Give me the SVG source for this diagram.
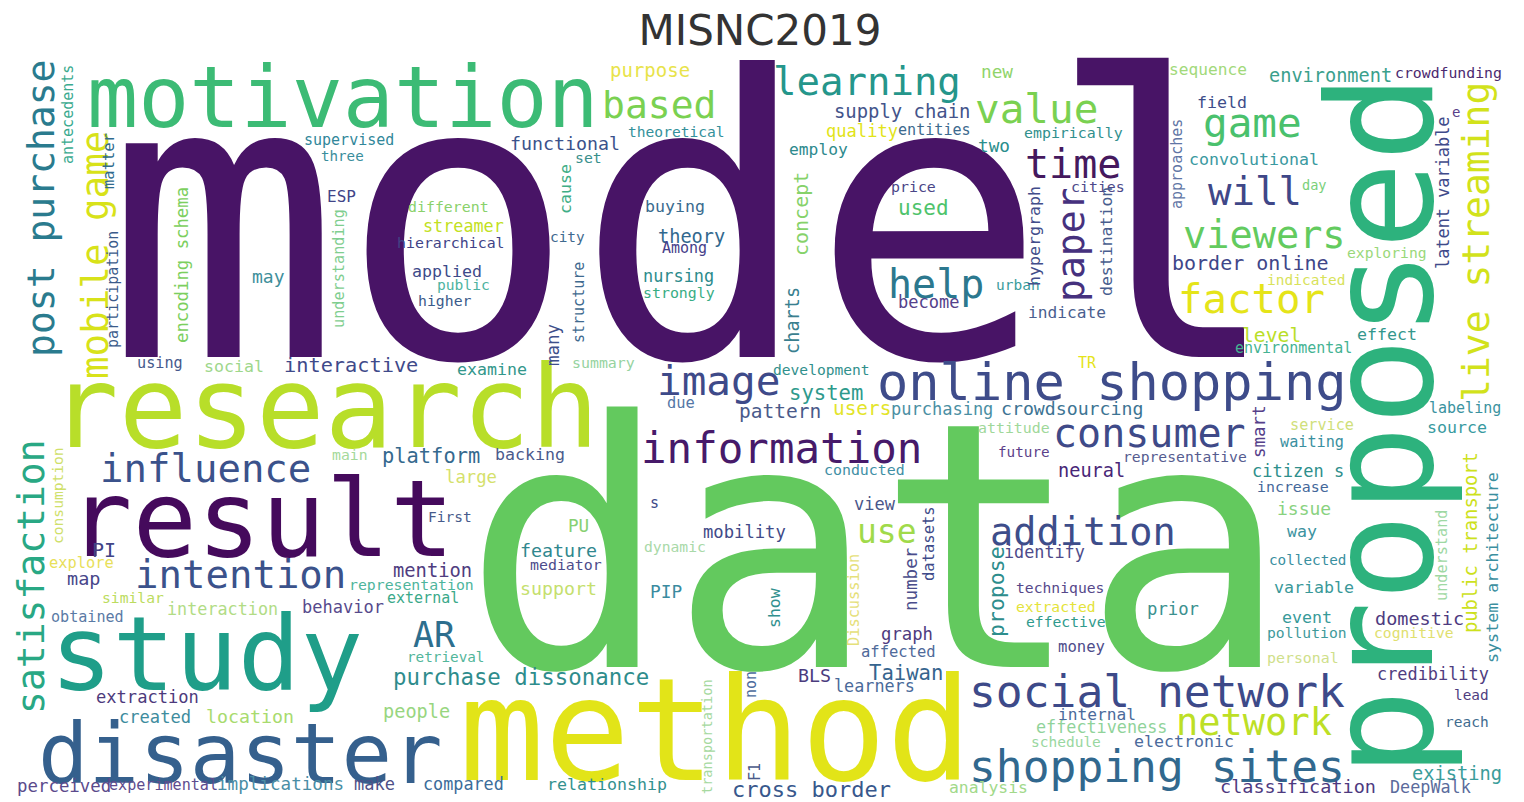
<svg xmlns="http://www.w3.org/2000/svg" width="1524" height="802" viewBox="0 0 1524 802">
<style>
text{font-family:"DejaVu Sans Mono","Liberation Mono",monospace;}
.title{font-family:"DejaVu Sans","Liberation Sans",sans-serif;}
</style>
<rect width="1524" height="802" fill="#ffffff"/>
<text class="title" x="760" y="45" font-size="42" text-anchor="middle" fill="#333333">MISNC2019</text>
<g id="big">
<text id="w-model" x="105" y="357" font-size="391" fill="#481466">model</text>
<text id="w-data" x="463" y="667" font-size="343" fill="#63c95e">data</text>
<text id="w-proposed" transform="translate(1432,777) rotate(-90)" font-size="146" fill="#2db27d">proposed</text>
<text id="w-research" x="50" y="447" font-size="114" fill="#b8de29">research</text>
<text id="w-result" x="68" y="556" font-size="107" fill="#450a5c">result</text>
<text id="w-study" x="50" y="690" font-size="104" fill="#1f9e89">study</text>
<text id="w-method" x="459" y="780" font-size="142" fill="#e2e418">method</text>
<text id="w-disaster" x="38" y="783" font-size="84" fill="#35608d">disaster</text>
<text id="w-motivation" x="87" y="127" font-size="85" fill="#3cbb75">motivation</text>
</g>
<g id="medium">
<text x="100" y="482" font-size="39" fill="#3b528b">influence</text>
<text x="135" y="588" font-size="39" fill="#3b528b">intention</text>
<text x="641" y="463" font-size="42.5" fill="#471a6a">information</text>
<text x="877" y="400" font-size="52" fill="#3e4c8a">online shopping</text>
<text x="969" y="707" font-size="44.6" fill="#3d4a89">social network</text>
<text x="969" y="782" font-size="44.6" fill="#31688e">shopping sites</text>
<text x="1176" y="735" font-size="37" fill="#bddf26">network</text>
<text x="1053" y="447" font-size="40" fill="#3f4a88">consumer</text>
<text x="990" y="545" font-size="38.6" fill="#3d4d8a">addition</text>
<text x="657" y="395" font-size="41" fill="#3e4a89">image</text>
<text x="857" y="543" font-size="33" fill="#a0da4a">use</text>
<text x="413" y="647" font-size="35" fill="#2d6e8e">AR</text>
<text x="773" y="95" font-size="39" fill="#25968b">learning</text>
<text x="975" y="123" font-size="41" fill="#7ad151">value</text>
<text x="1025" y="178" font-size="40" fill="#45195e">time</text>
<text x="888" y="298" font-size="40" fill="#2c788e">help</text>
<text x="1203" y="137" font-size="41" fill="#4ac16d">game</text>
<text x="1208" y="205" font-size="39" fill="#3f4788">will</text>
<text x="1183" y="248" font-size="38.6" fill="#63cb5f">viewers</text>
<text x="1178" y="313" font-size="40.7" fill="#e5e419">factor</text>
<text x="602" y="118" font-size="38" fill="#7ad151">based</text>
<text transform="translate(54,357) rotate(-90)" font-size="38" fill="#2a7b8e">post purchase</text>
<text transform="translate(108,379) rotate(-90)" font-size="37.5" fill="#d8e219">mobile game</text>
<text transform="translate(44,714) rotate(-90)" font-size="38" fill="#29a884">satisfaction</text>
<text transform="translate(1084,302) rotate(-90)" font-size="38" fill="#46317e">paper</text>
<text transform="translate(1489,402) rotate(-90)" font-size="38" fill="#d2e21b">live streaming</text>
<text x="92" y="557" font-size="20" fill="#414487">PI</text>
</g>
<g id="small">
<text x="393" y="685" font-size="22.4" fill="#2e8c8c">purchase dissonance</text>
<text x="1172" y="270" font-size="20" fill="#404688">border online</text>
<text x="284" y="372" font-size="20.3" fill="#3f4a8a">interactive</text>
<text x="382" y="463" font-size="20.4" fill="#35698e">platform</text>
<text x="789" y="400" font-size="20.6" fill="#2e9a8c">system</text>
<text x="739" y="418" font-size="19.5" fill="#4a5a8a">pattern</text>
<text x="833" y="415" font-size="19.4" fill="#e3e42a">users</text>
<text x="891" y="415" font-size="17" fill="#4b8fa3">purchasing</text>
<text x="1001" y="415" font-size="18.2" fill="#3d7493">crowdsourcing</text>
<text x="732" y="797" font-size="22" fill="#38588c">cross border</text>
<text x="869" y="680" font-size="20.6" fill="#36648e">Taiwan</text>
<text x="1242" y="342" font-size="19.7" fill="#bade28">level</text>
<text x="834" y="118" font-size="18.9" fill="#44548b">supply chain</text>
<text x="658" y="243" font-size="18.6" fill="#31688e">theory</text>
<text x="1058" y="477" font-size="18.6" fill="#482677">neural</text>
<text x="393" y="577" font-size="18.8" fill="#4f3d7f">mention</text>
<text x="1269" y="82" font-size="18.6" fill="#3aa08c">environment</text>
<text x="610" y="77" font-size="19" fill="#e8e34a">purpose</text>
<text x="510" y="150" font-size="18.3" fill="#3b528b">functional</text>
<text x="383" y="718" font-size="18.6" fill="#98d67f">people</text>
<text x="1412" y="780" font-size="18.7" fill="#3a9d9a">existing</text>
<text x="1220" y="793" font-size="18.5" fill="#4e3a7f">classification</text>
<text x="1375" y="625" font-size="18.5" fill="#4e3b80">domestic</text>
<text x="520" y="557" font-size="18.3" fill="#30878e">feature</text>
<text x="520" y="595" font-size="18.3" fill="#c5df6e">support</text>
<text x="206" y="723" font-size="18.3" fill="#a8db6e">location</text>
<text x="798" y="682" font-size="18.3" fill="#4b3c7e">BLS</text>
<text x="67" y="585" font-size="18.5" fill="#48478a">map</text>
<text x="252" y="283" font-size="18" fill="#3e8f9b">may</text>
<text x="1277" y="515" font-size="18" fill="#89d27f">issue</text>
<text x="217" y="790" font-size="17.6" fill="#4a8ea5">implications</text>
<text x="17" y="792" font-size="17.4" fill="#5b4a8c">perceived</text>
<text x="650" y="598" font-size="17.8" fill="#3a8b9f">PIP</text>
<text x="568" y="532" font-size="17.6" fill="#87d072">PU</text>
<text x="981" y="78" font-size="17.7" fill="#90d46a">new</text>
<text x="978" y="152" font-size="17.7" fill="#2b8e8c">two</text>
<text x="881" y="640" font-size="17.3" fill="#4f3b80">graph</text>
<text x="445" y="483" font-size="17.3" fill="#d5e16b">large</text>
<text x="1147" y="615" font-size="17.3" fill="#3c918f">prior</text>
<text x="703" y="538" font-size="17.2" fill="#414a88">mobility</text>
<text x="96" y="703" font-size="17.1" fill="#4d3a7c">extraction</text>
<text x="119" y="723" font-size="17.1" fill="#3e8c9e">created</text>
<text x="826" y="137" font-size="17.1" fill="#e2e418">quality</text>
<text x="302" y="613" font-size="17" fill="#574a8c">behavior</text>
<text x="1252" y="477" font-size="17" fill="#2e8f8c">citizen s</text>
<text x="854" y="510" font-size="17" fill="#4a568a">view</text>
<text x="898" y="308" font-size="17" fill="#54418b">become</text>
<text x="423" y="232" font-size="16.8" fill="#c2df23">streamer</text>
<text x="643" y="282" font-size="16.9" fill="#2c8b8c">nursing</text>
<text x="1377" y="680" font-size="16.9" fill="#503d80">credibility</text>
<text x="167" y="615" font-size="16.8" fill="#b2dc85">interaction</text>
<text x="423" y="790" font-size="16.8" fill="#3c6c9a">compared</text>
<text x="1004" y="558" font-size="16.8" fill="#4e4a8a">identify</text>
<text x="834" y="692" font-size="16.8" fill="#4a6a9a">learners</text>
<text x="1036" y="733" font-size="16.8" fill="#90d39a">effectiveness</text>
<text x="1390" y="793" font-size="16.8" fill="#5b6b9c">DeepWalk</text>
<text x="354" y="790" font-size="17" fill="#4e5088">make</text>
<text x="547" y="790" font-size="16.6" fill="#33918e">relationship</text>
<text x="412" y="277" font-size="16.6" fill="#3e4a89">applied</text>
<text x="645" y="212" font-size="16.6" fill="#3a6b8e">buying</text>
<text x="457" y="375" font-size="16.6" fill="#33978b">examine</text>
<text x="495" y="460" font-size="16.6" fill="#4b5a8c">backing</text>
<text x="204" y="372" font-size="16.6" fill="#9ed78b">social</text>
<text x="1357" y="340" font-size="16.6" fill="#34978c">effect</text>
<text x="1427" y="433" font-size="16.6" fill="#389aa0">source</text>
<text x="1287" y="537" font-size="16.6" fill="#3c93a0">way</text>
<text x="1134" y="747" font-size="16.6" fill="#4c6b9c">electronic</text>
<text x="1274" y="593" font-size="16.6" fill="#3a9999">variable</text>
<text x="1282" y="623" font-size="16.6" fill="#389b9a">event</text>
<text x="1197" y="108" font-size="16.6" fill="#3e4d8a">field</text>
<text x="1189" y="165" font-size="16.6" fill="#3a99a0">convolutional</text>
<text x="949" y="793" font-size="16.4" fill="#a2d98a">analysis</text>
<text x="789" y="155" font-size="16.3" fill="#2d8a8d">employ</text>
<text x="1169" y="75" font-size="16.2" fill="#a2d97a">sequence</text>
<text x="1028" y="318" font-size="16.2" fill="#4a5f8f">indicate</text>
<text x="1058" y="720" font-size="16.2" fill="#4b6b9b">internal</text>
<text x="327" y="202" font-size="16" fill="#414487">ESP</text>
<text x="898" y="215" font-size="21" fill="#4ec36b">used</text>
<text x="861" y="657" font-size="15.5" fill="#4f6a9a">affected</text>
<text x="1058" y="652" font-size="15.6" fill="#4e4d8b">money</text>
<text x="49" y="568" font-size="15.4" fill="#e8e05a">explore</text>
<text x="667" y="408" font-size="15.4" fill="#5477a6">due</text>
<text x="1290" y="430" font-size="15.2" fill="#d0e07a">service</text>
<text x="1280" y="447" font-size="15.2" fill="#3a90a0">waiting</text>
<text x="137" y="368" font-size="15.2" fill="#46598c">using</text>
<text x="51" y="622" font-size="15.1" fill="#5a7aa5">obtained</text>
<text x="898" y="135" font-size="15.1" fill="#3d6a8e">entities</text>
<text x="109" y="790" font-size="15.1" fill="#5e4c8e">experimental</text>
<text x="304" y="145" font-size="15" fill="#31879a">supervised</text>
<text x="397" y="248" font-size="14.9" fill="#414487">hierarchical</text>
<text x="408" y="212" font-size="14.9" fill="#8ad16b">different</text>
<text x="643" y="298" font-size="14.9" fill="#38ad84">strongly</text>
<text x="1024" y="138" font-size="14.9" fill="#31908d">empirically</text>
<text x="891" y="192" font-size="14.9" fill="#4a4687">price</text>
<text x="1071" y="192" font-size="14.9" fill="#4d4a8a">cities</text>
<text x="572" y="368" font-size="14.9" fill="#96d3a0">summary</text>
<text x="824" y="475" font-size="14.9" fill="#3f8fa5">conducted</text>
<text x="978" y="433" font-size="14.9" fill="#9fd89a">attitude</text>
<text x="1267" y="663" font-size="14.9" fill="#cfe08a">personal</text>
<text x="530" y="570" font-size="14.9" fill="#4d4c8b">mediator</text>
<text x="102" y="603" font-size="14.7" fill="#bcdc5e">similar</text>
<text x="1235" y="353" font-size="15" fill="#45b393">environmental</text>
<text x="1429" y="413" font-size="15" fill="#3b93a0">labeling</text>
<text x="387" y="603" font-size="15" fill="#3ba98a">external</text>
<text x="321" y="161" font-size="14.2" fill="#3a8e9c">three</text>
<text x="575" y="163" font-size="14.8" fill="#39908c">set</text>
<text x="662" y="253" font-size="15" fill="#46408a">Among</text>
<text x="628" y="137" font-size="14.6" fill="#35919b">theoretical</text>
<text x="418" y="306" font-size="14.8" fill="#3b5b8b">higher</text>
<text x="437" y="290" font-size="14.6" fill="#4db3a0">public</text>
<text x="550" y="242" font-size="14.4" fill="#3f6a8f">city</text>
<text x="996" y="290" font-size="14.5" fill="#3b9c9b">urban</text>
<text x="1395" y="78" font-size="14.8" fill="#4b2a70">crowdfunding</text>
<text x="1302" y="190" font-size="13.6" fill="#7ad07a">day</text>
<text x="1347" y="258" font-size="14.7" fill="#9ad87a">exploring</text>
<text x="1267" y="285" font-size="14.5" fill="#d8e25a">indicated</text>
<text x="332" y="460" font-size="14.8" fill="#a5d99a">main</text>
<text x="773" y="375" font-size="14.6" fill="#31908c">development</text>
<text x="1078" y="368" font-size="15" fill="#e5e419">TR</text>
<text x="998" y="457" font-size="14.3" fill="#5c3f8a">future</text>
<text x="1123" y="462" font-size="14.7" fill="#565c90">representative</text>
<text x="1257" y="492" font-size="14.9" fill="#44679a">increase</text>
<text x="650" y="508" font-size="15" fill="#3e4a89">s</text>
<text x="428" y="522" font-size="14.5" fill="#475b8c">First</text>
<text x="644" y="552" font-size="14.7" fill="#a9d9a8">dynamic</text>
<text x="349" y="590" font-size="14.8" fill="#4eb59c">representation</text>
<text x="407" y="662" font-size="14.3" fill="#52b69a">retrieval</text>
<text x="1016" y="593" font-size="14.7" fill="#56488a">techniques</text>
<text x="1016" y="612" font-size="14.7" fill="#e4e33a">extracted</text>
<text x="1026" y="627" font-size="14.7" fill="#2f9a8c">effective</text>
<text x="1031" y="747" font-size="14.5" fill="#99d79f">schedule</text>
<text x="1269" y="565" font-size="14.3" fill="#3a909f">collected</text>
<text x="1267" y="638" font-size="14.7" fill="#3f9a9a">pollution</text>
<text x="1374" y="638" font-size="14.7" fill="#e0e06e">cognitive</text>
<text x="1454" y="700" font-size="14.4" fill="#4f3d7f">lead</text>
<text x="1445" y="727" font-size="14.5" fill="#3f6c8f">reach</text>
<text x="1452" y="117" font-size="14" fill="#5a3f8a">e</text>
</g>
<g id="vertical">
<text transform="translate(73,164) rotate(-90)" font-size="15" fill="#3aaa8e">antecedents</text>
<text transform="translate(114,189) rotate(-90)" font-size="15.5" fill="#2f6b8e">matter</text>
<text transform="translate(118,348) rotate(-90)" font-size="15" fill="#3b5b8a">participation</text>
<text transform="translate(188,343) rotate(-90)" font-size="17.3" fill="#7ccf5e">encoding schema</text>
<text transform="translate(344,328) rotate(-90)" font-size="15.2" fill="#7fce8f">understanding</text>
<text transform="translate(571,214) rotate(-90)" font-size="16.6" fill="#3fae86">cause</text>
<text transform="translate(584,343) rotate(-90)" font-size="15" fill="#3f6a8f">structure</text>
<text transform="translate(808,256) rotate(-90)" font-size="20" fill="#86d26a">concept</text>
<text transform="translate(1040,286) rotate(-90)" font-size="16.6" fill="#424d8a">hypergraph</text>
<text transform="translate(1112,296) rotate(-90)" font-size="16.5" fill="#485d8e">destination</text>
<text transform="translate(799,354) rotate(-90)" font-size="18.6" fill="#3a7f8f">charts</text>
<text transform="translate(1182,209) rotate(-90)" font-size="15" fill="#5f75a5">approaches</text>
<text transform="translate(1449,269) rotate(-90)" font-size="16.9" fill="#3f4a8a">latent variable</text>
<text transform="translate(63,544) rotate(-90)" font-size="14.6" fill="#cfe06a">consumption</text>
<text transform="translate(559,366) rotate(-90)" font-size="17.5" fill="#3d4f8a">many</text>
<text transform="translate(934,581) rotate(-90)" font-size="15.5" fill="#3e4a89">datasets</text>
<text transform="translate(1265,458) rotate(-90)" font-size="17.5" fill="#55408a">smart</text>
<text transform="translate(1447,601) rotate(-90)" font-size="15.2" fill="#9ed8a3">understand</text>
<text transform="translate(1477,633) rotate(-90)" font-size="18.8" fill="#cde11d">public transport</text>
<text transform="translate(1498,663) rotate(-90)" font-size="16.7" fill="#3b8f9f">system architecture</text>
<text transform="translate(712,794) rotate(-90)" font-size="13.6" fill="#a6d9a0">transportation</text>
<text transform="translate(756,698) rotate(-90)" font-size="15" fill="#4b6a9c">non</text>
<text transform="translate(760,781) rotate(-90)" font-size="15" fill="#4a5a8a">F1</text>
<text transform="translate(780,628) rotate(-90)" font-size="16.5" fill="#32908e">show</text>
<text transform="translate(859,646) rotate(-90)" font-size="15.3" fill="#e5e07a">Discussion</text>
<text transform="translate(917,611) rotate(-90)" font-size="17.5" fill="#4a4d8b">number</text>
<text transform="translate(1004,637) rotate(-90)" font-size="21.5" fill="#2d8d8c">propose</text>
</g>
</svg>
